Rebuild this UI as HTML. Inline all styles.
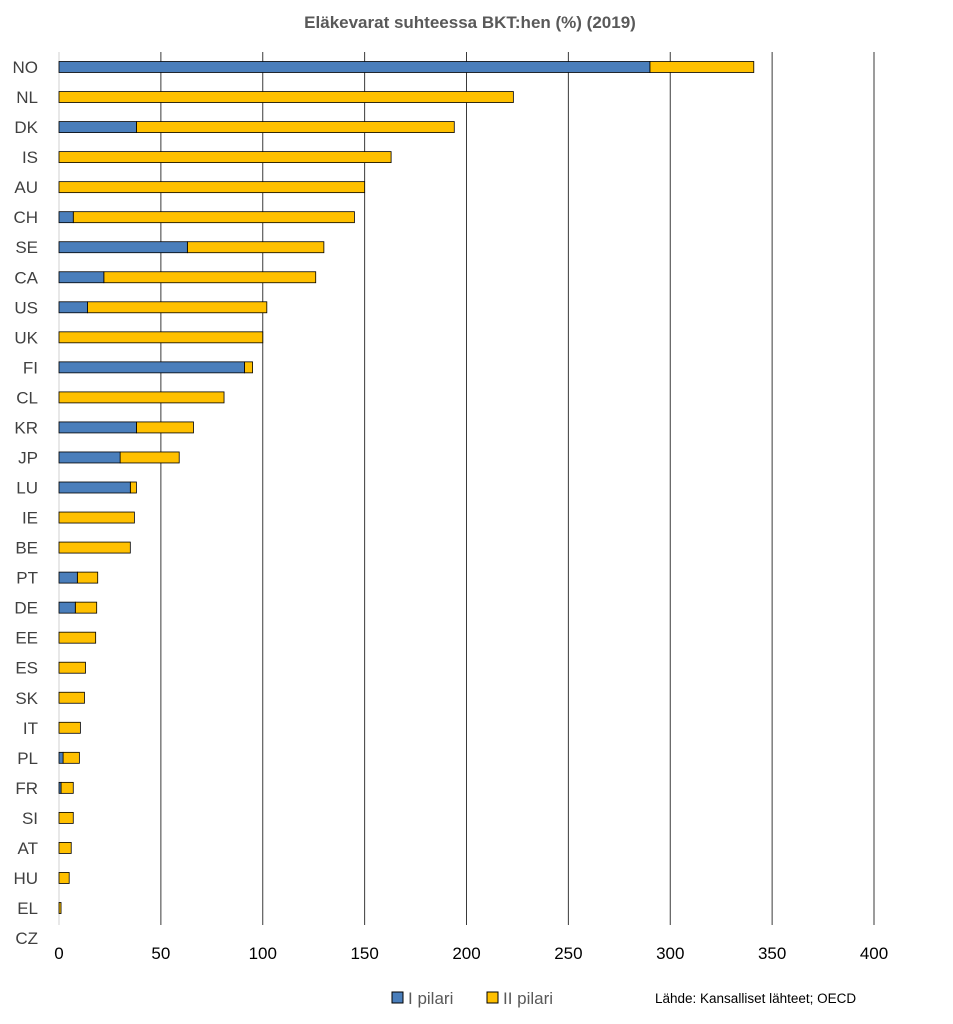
<!DOCTYPE html>
<html><head><meta charset="utf-8">
<style>
body{margin:0;background:#fff;width:953px;height:1024px;overflow:hidden;font-family:"Liberation Sans",sans-serif;}
svg{display:block}
</style></head><body>
<svg id="chart" width="953" height="1024" xmlns="http://www.w3.org/2000/svg">
<text x="470" y="28" text-anchor="middle" font-size="17" font-weight="bold" fill="#595959">Eläkevarat suhteessa BKT:hen (%) (2019)</text>
<g id="grid"></g>
<g id="bars"></g>
<g id="labels"></g>
<g>
<rect x="392" y="992" width="11" height="11" fill="#4a7ebb" stroke="#000"/>
<text x="408" y="1004" font-size="17" fill="#595959">I pilari</text>
<rect x="487" y="992" width="11" height="11" fill="#ffc000" stroke="#000"/>
<text x="503" y="1004" font-size="17" fill="#595959">II pilari</text>
</g>
<text x="655" y="1003" font-size="13.5" fill="#000">Lähde: Kansalliset lähteet; OECD</text>
</svg>
<script>
const countries=["NO","NL","DK","IS","AU","CH","SE","CA","US","UK","FI","CL","KR","JP","LU","IE","BE","PT","DE","EE","ES","SK","IT","PL","FR","SI","AT","HU","EL","CZ"];
const pillar1=[290,0,38,0,0,7,63,22,14,0,91,0,38,30,35,0,0,9,8,0,0,0,0,2,1,0,0,0,0,0];
const totals=[341,223,194,163,150,145,130,126,102,100,95,81,66,59,38,37,35,19,18.5,18,13,12.5,10.5,10,7,7,6,5,1,0];
const ticks=[0,50,100,150,200,250,300,350,400];
const NS="http://www.w3.org/2000/svg";
const x0=59,x1=874,xmax=400;
const xs=v=>x0+(v/xmax)*(x1-x0);
const yTop=67,yBot=908;
const ys=i=>yTop+i*(yBot-yTop)/(countries.length-2);
function mk(tag,attrs,parent){const e=document.createElementNS(NS,tag);for(const k in attrs)e.setAttribute(k,attrs[k]);parent.appendChild(e);return e;}
const grid=document.getElementById('grid'),bars=document.getElementById('bars'),labels=document.getElementById('labels');
ticks.forEach(t=>{
  const l=mk('line',{x1:xs(t),x2:xs(t),y1:52,y2:925,stroke:t===0?'#d0d0d0':'#3a3a3a','stroke-width':1},grid);
  
  
  const tx=mk('text',{x:xs(t),y:959,'text-anchor':'middle','font-size':17,fill:'#000'},grid);
  tx.textContent=t;
  
  
});
countries.forEach((c,i)=>{
  const y=ys(i);
  const lb=mk('text',{x:38,y:y+6,'text-anchor':'end','font-size':17,fill:'#404040'},labels);
  lb.textContent=c;
  
  
  const p1=pillar1[i],tot=totals[i];
  if(tot-p1>0){
    const r=mk('rect',{x:xs(p1),y:y-5.5,width:xs(tot)-xs(p1),height:11,fill:'#ffc000',stroke:'#000','stroke-width':0.8},bars);
    
    
  }
  if(p1>0){
    const r=mk('rect',{x:xs(0),y:y-5.5,width:xs(p1)-xs(0),height:11,fill:'#4a7ebb',stroke:'#000','stroke-width':0.8},bars);
    
    
  }
});
</script>
</body></html>
